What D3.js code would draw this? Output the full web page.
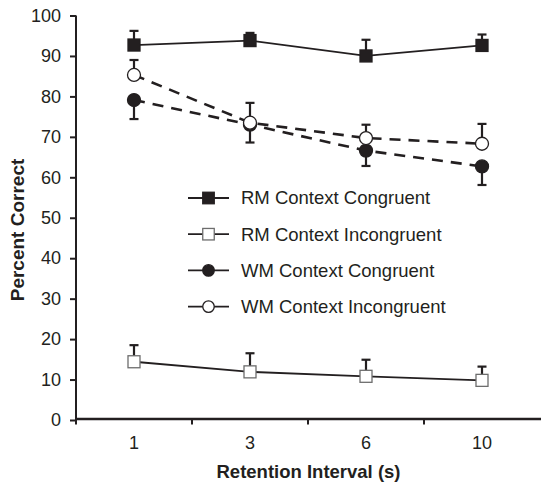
<!DOCTYPE html>
<html>
<head>
<meta charset="utf-8">
<script src="https://cdn.jsdelivr.net/npm/d3@7"></script>
<style>
  body { margin: 0; background: #fff; }
  text { font-family: "Liberation Sans", Arial, Helvetica, sans-serif; fill: #231f20; }
</style>
</head>
<body>
<div id="chart"></div>
<script>
// data
const intervals = ["1", "3", "6", "10"];
const yTicks = [0, 10, 20, 30, 40, 50, 60, 70, 80, 90, 100];

const rmCongruent = [92.7, 93.8, 90.0, 92.6];
const rmCongruentErr = [3.5, 1.9, 4.0, 2.7];
const rmIncongruent = [14.4, 11.9, 10.8, 9.8];
const rmIncongruentErr = [4.1, 4.6, 4.1, 3.4];
const wmCongruent = [79.1, 73.0, 66.6, 62.7];
const wmCongruentErr = [4.7, 4.4, 3.8, 4.6];
const wmIncongruent = [85.3, 73.5, 69.7, 68.3];
const wmIncongruentErr = [3.7, 4.9, 3.3, 4.9];

const seriesNames = ["RM Context Congruent", "RM Context Incongruent", "WM Context Congruent", "WM Context Incongruent"];

const ink = "#231f20";
const width = 541, height = 483;

const svg = d3.select("#chart").append("svg")
  .attr("width", width)
  .attr("height", height);

// scales
const x = d3.scaleBand().domain(intervals).range([76, 540]);
const y = d3.scaleLinear().domain([0, 100]).range([420, 15.5]);

// series table, built from the arrays above
const series = [
  {name: seriesNames[0], values: rmCongruent, err: rmCongruentErr, dir: 1, shape: "square", fill: ink, dashed: false},
  {name: seriesNames[1], values: rmIncongruent, err: rmIncongruentErr, dir: 1, shape: "square", fill: "#fff", dashed: false},
  {name: seriesNames[2], values: wmCongruent, err: wmCongruentErr, dir: -1, shape: "circle", fill: ink, dashed: true},
  {name: seriesNames[3], values: wmIncongruent, err: wmIncongruentErr, dir: 1, shape: "circle", fill: "#fff", dashed: true}
];

// y axis
const yAxis = svg.append("g")
  .attr("transform", `translate(${x.range()[0]},0)`)
  .call(d3.axisLeft(y).tickValues(yTicks).tickSize(6).tickPadding(9));
yAxis.select(".domain").attr("stroke", ink).attr("stroke-width", 2).attr("d", `M0,${y(100)}V${y(0) + 1}`);
yAxis.selectAll(".tick line").attr("stroke", ink).attr("stroke-width", 2);
yAxis.selectAll(".tick text").attr("font-size", 18).style("font-family", "Liberation Sans, Arial, sans-serif").attr("fill", ink);

// x axis: labels at band centres, ticks at band edges
const xAxis = svg.append("g")
  .attr("transform", `translate(0,${y(0) - 1})`)
  .call(d3.axisBottom(x).tickSize(0).tickPadding(17));
xAxis.select(".domain").attr("stroke", ink).attr("stroke-width", 2.4).attr("d", `M${x.range()[0] - 1},0H${width}`);
xAxis.selectAll(".tick text").attr("font-size", 18).style("font-family", "Liberation Sans, Arial, sans-serif").attr("fill", ink);
xAxis.selectAll(".edge")
  .data(intervals)
  .join("line")
    .attr("class", "edge")
    .attr("x1", d => x(d)).attr("x2", d => x(d))
    .attr("y1", 0).attr("y2", 5.5)
    .attr("stroke", ink).attr("stroke-width", 2);

// axis titles
svg.append("text")
  .attr("x", (x.range()[0] + x.range()[1]) / 2 + 0.5)
  .attr("y", 478)
  .attr("text-anchor", "middle")
  .attr("font-size", 18.5)
  .attr("font-weight", "bold")
  .text("Retention Interval (s)");

svg.append("text")
  .attr("transform", "translate(24,230) rotate(-90)")
  .attr("text-anchor", "middle")
  .attr("font-size", 19)
  .attr("font-weight", "bold")
  .text("Percent Correct");

const cx = i => x(intervals[i]) + x.bandwidth() / 2;

function drawMarker(g, s, px, py, size) {
  if (s.shape === "square") {
    g.append("rect")
      .attr("x", px - size / 2).attr("y", py - size / 2)
      .attr("width", size).attr("height", size)
      .attr("fill", s.fill)
      .attr("stroke", s.fill === ink ? ink : "#6d6d6d")
      .attr("stroke-width", 1.3);
  } else {
    g.append("circle")
      .attr("cx", px).attr("cy", py).attr("r", size / 2)
      .attr("fill", s.fill)
      .attr("stroke", ink)
      .attr("stroke-width", 1.3);
  }
}

// lines
const line = d3.line().x((d, i) => cx(i)).y(d => y(d));
series.forEach(s => {
  svg.append("path")
    .datum(s.values)
    .attr("d", line)
    .attr("fill", "none")
    .attr("stroke", ink)
    .attr("stroke-width", s.dashed ? 2.6 : 1.8)
    .attr("stroke-dasharray", s.dashed ? "11,8" : null);
});

// error bars (one-sided)
series.forEach(s => {
  const eg = svg.append("g");
  s.values.forEach((v, i) => {
    const end = y(v + s.dir * s.err[i]);
    eg.append("line")
      .attr("x1", cx(i)).attr("x2", cx(i))
      .attr("y1", y(v)).attr("y2", end)
      .attr("stroke", ink).attr("stroke-width", 2.2);
    eg.append("line")
      .attr("x1", cx(i) - 4.5).attr("x2", cx(i) + 4.5)
      .attr("y1", end).attr("y2", end)
      .attr("stroke", ink).attr("stroke-width", 2.2);
  });
});

// markers
series.forEach(s => {
  const mg = svg.append("g");
  s.values.forEach((v, i) => drawMarker(mg, s, cx(i), y(v), s.shape === "square" ? 12 : 13));
});

// legend
const legend = svg.append("g").attr("transform", "translate(188,198)");
series.forEach((s, i) => {
  const row = legend.append("g").attr("transform", `translate(0,${i * 36.2})`);
  row.append("line")
    .attr("x1", 0).attr("x2", 41)
    .attr("stroke", ink).attr("stroke-width", 1.8);
  drawMarker(row, s, 20.5, 0, s.shape === "square" ? 11.5 : 11.5);
  row.append("text")
    .attr("x", 53)
    .attr("dy", "0.35em")
    .attr("font-size", 18.5)
    .text(s.name);
});
</script>
</body>
</html>
